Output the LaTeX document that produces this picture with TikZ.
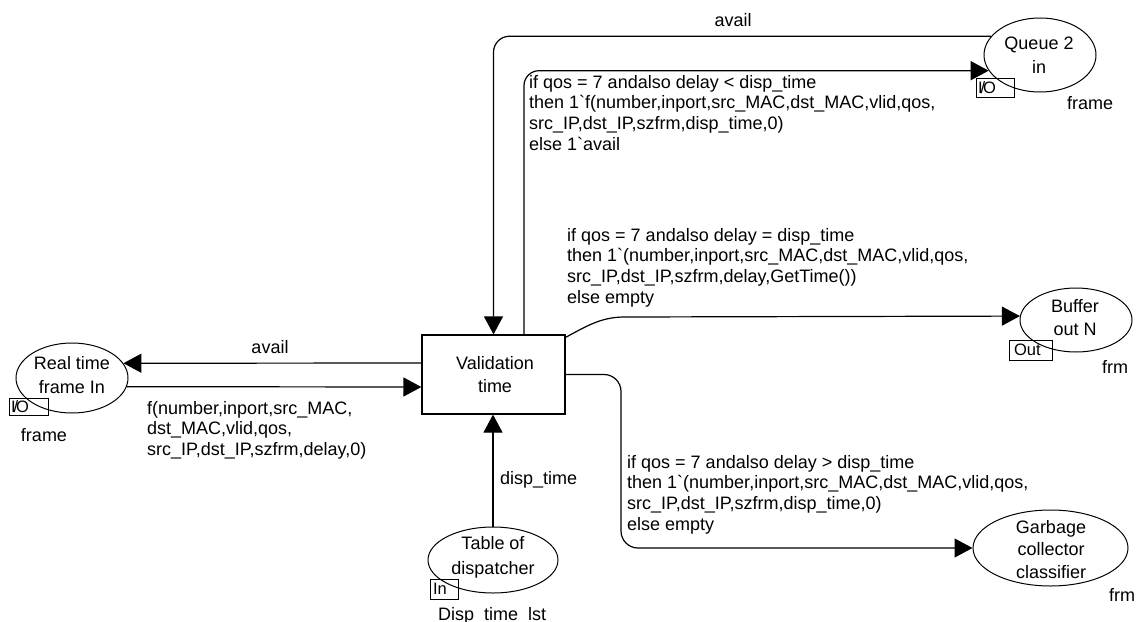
\documentclass[tikz,border=0pt]{standalone}
\usepackage{fontspec}
\setmainfont{Liberation Sans}
\usetikzlibrary{arrows.meta,shapes.geometric,calc}

\newcommand{\bq}{\textasciigrave}
\newcommand{\txtfont}{\fontsize{18}{20.7}\selectfont}
\newcommand{\portfont}{\fontsize{16.5}{16.5}\selectfont}

\begin{document}
\begin{tikzpicture}[x=1pt,y=-1pt,
  every node/.style={font=\txtfont, inner sep=0pt},
  arc/.style={line width=1.2pt, -{Triangle[length=18pt,width=19pt]}},
  place/.style n args={2}{draw, ellipse, line width=1pt, minimum width=#1, minimum height=#2},
  trans/.style={draw, rectangle, line width=1.2pt, minimum width=143pt, minimum height=79pt},
  placetext/.style={align=center},
  port/.style n args={2}{draw, rectangle, line width=0.7pt, font=\portfont,
    inner xsep=2pt, inner ysep=0pt, text width=#1, minimum height=#2, align=left},
  insc/.style={align=left, anchor=north west},
  lbl/.style={anchor=base}
]
\useasboundingbox (0,0) rectangle (1137,621);
\fill[white] (0,0) rectangle (1137,621);

% transition
\node[trans] (vt) at (493.5,374.5) {};
\node[placetext] (vt-t) at (495,374.5) {Validation\\[2.3pt]time};

% places
\node[place={112pt}{70pt}] (rt) at (72,378) {};
\node[placetext] (rt-t) at (72,375) {Real time\\[3.3pt]frame In};

\node[place={112pt}{74pt}] (q) at (1040,55) {};
\node[placetext] (q-t) at (1039,55) {Queue 2\\[3.3pt]in};

\node[place={112pt}{64pt}] (b) at (1076,320) {};
\node[placetext] (b-t) at (1075,317.5) {Buffer\\[2.3pt]out N};

\node[place={155pt}{76pt}] (gc) at (1050.5,548) {};
\node[placetext] (gc-t) at (1051,549.5) {Garbage\\[1.8pt]collector\\[1.8pt]classifier};

\node[place={130pt}{66pt}] (tbl) at (493,560) {};
\node[placetext] (tbl-t) at (493,557.5) {Table of\\[4.3pt]dispatcher};

% port tags and colour sets
\node[port={35pt}{17pt}] (rt-port) at (28.5,406.5) {I\kern-2pt/\kern-2pt O};
\node[lbl] (rt-cs) at (44,441) {frame};

\node[port={34pt}{19pt}] (q-port) at (995,87.5) {I\kern-2pt/\kern-2pt O};
\node[lbl] (q-cs) at (1090,109) {frame};

\node[port={39pt}{20pt}] (b-port) at (1030.5,350) {\hspace{3pt}Out};
\node[lbl] (b-cs) at (1115,373) {frm};

\node[port={24pt}{20pt}] (tbl-port) at (444,589) {\hspace{1pt}In};
\node[anchor=base west] (tbl-cs) at (438,620.5) {Disp\_time\_lst};

\node[lbl] (gc-cs) at (1122,601) {frm};

% bend points of the routed arcs
\coordinate (bbend) at (625,317);
\coordinate (gbend) at (621,548);

% arcs
\draw[arc] ($(vt.west)+(0,-11.5)$) -- (rt.16.5);
\draw[arc] (rt.-9.4) -- ($(vt.west)+(0,12.5)$);
\draw[arc] (tbl.north) -- (tbl.north |- vt.south);
\draw[arc, rounded corners=16pt] (q.159.8) -| (vt.north);
\draw[arc, rounded corners=15pt] ($(vt.north)+(30.5,0)$) |- (q.197.6);
\draw[arc] ($(vt.north east)+(0,3)$) .. controls (590,324) and (603,317) .. (bbend) -- (b.176.9);
\draw[arc, rounded corners=17pt] (vt.east) -| (gbend) -- (gc.west);

% arc inscriptions
\node[lbl] (l-avail1) at (270,353) {avail};
\node[insc] (l-frame) at (147,401) {f(number,inport,src\_MAC,\\dst\_MAC,vlid,qos,\\src\_IP,dst\_IP,szfrm,delay,0)};
\node[anchor=base west] (l-disp) at (500,484) {disp\_time};
\node[lbl] (l-avail2) at (733,26) {avail};
\node[insc] (l-q) at (529,75) {if qos = 7 andalso delay < disp\_time\\then 1\bq f(number,inport,src\_MAC,dst\_MAC,vlid,qos,\\src\_IP,dst\_IP,szfrm,disp\_time,0)\\else 1\bq avail};
\node[insc] (l-b) at (567,228) {if qos = 7 andalso delay = disp\_time\\then 1\bq(number,inport,src\_MAC,dst\_MAC,vlid,qos,\\src\_IP,dst\_IP,szfrm,delay,GetTime())\\else empty};
\node[insc] (l-gc) at (627,455) {if qos = 7 andalso delay > disp\_time\\then 1\bq(number,inport,src\_MAC,dst\_MAC,vlid,qos,\\src\_IP,dst\_IP,szfrm,disp\_time,0)\\else empty};
\end{tikzpicture}
\end{document}
